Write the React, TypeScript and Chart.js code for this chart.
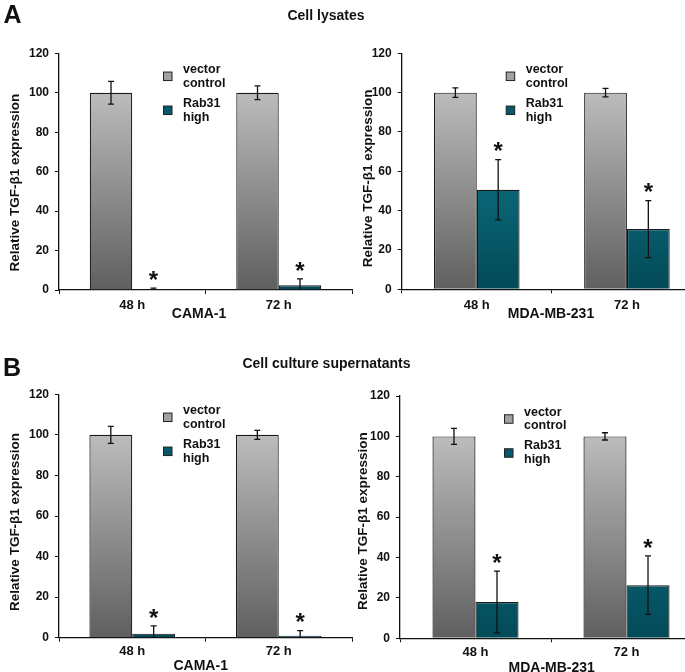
import React, { useEffect, useRef } from "react";
import { Chart, registerables } from "chart.js";

Chart.register(...registerables);

// ---------- data ----------
const timepoints = ["48 h", "72 h"];
const vectorLabel = ["vector", "control"];
const rab31Label = ["Rab31", "high"];

// A: cell lysates
const lysCamaVector = [100, 100];
const lysCamaVectorErr = [5.8, 3.5];
const lysCamaRab31 = [0.4, 2.4];
const lysCamaRab31Err = [0.6, 3.2];

const lysMdaVector = [100, 100];
const lysMdaVectorErr = [2.4, 2.2];
const lysMdaRab31 = [50.6, 30.6];
const lysMdaRab31Err = [15.3, 14.5];

// B: cell culture supernatants
const supCamaVector = [100, 100];
const supCamaVectorErr = [4.2, 2.2];
const supCamaRab31 = [2.0, 1.0];
const supCamaRab31Err = [3.8, 2.5];

const supMdaVector = [100, 100];
const supMdaVectorErr = [4.0, 1.8];
const supMdaRab31 = [18.0, 26.3];
const supMdaRab31Err = [15.3, 14.5];

const rab31Significant = [true, true];

const yMin = 0;
const yMax = 120;
const yStep = 20;

const yTitle = "Relative TGF-\u03b21 expression";

const FONT = '"Liberation Sans", Arial, Helvetica, sans-serif';
const INK = "#111";

type PanelCfg = {
  cellLine: string;
  vector: number[];
  vectorErr: number[];
  rab: number[];
  rabErr: number[];
  left: number;
  top: number;
  width: number;
  height: number;
  padTop: number;
  padRight: number;
  yWidth: number;
  xHeight: number;
  xTitleX: number;
  xTitleY: number;
  yTitleDx: number;
  yTitleDy: number;
  catPct: number;
  xTickPad: number;
};

const panels: PanelCfg[] = [
  {
    cellLine: "CAMA-1",
    vector: lysCamaVector,
    vectorErr: lysCamaVectorErr,
    rab: lysCamaRab31,
    rabErr: lysCamaRab31Err,
    left: 0, top: 0, width: 353, height: 330,
    padTop: 53.3, padRight: 1, yWidth: 59, xHeight: 40,
    xTitleX: 199, xTitleY: 314, yTitleDx: 44, yTitleDy: 11,
    catPct: 0.58, xTickPad: 4,
  },
  {
    cellLine: "MDA-MB-231",
    vector: lysMdaVector,
    vectorErr: lysMdaVectorErr,
    rab: lysMdaRab31,
    rabErr: lysMdaRab31Err,
    left: 340, top: 0, width: 362, height: 330,
    padTop: 53.3, padRight: 0, yWidth: 61.7, xHeight: 40.7,
    xTitleX: 211, xTitleY: 314, yTitleDx: 33.4, yTitleDy: 7,
    catPct: 0.57, xTickPad: 4,
  },
  {
    cellLine: "CAMA-1",
    vector: supCamaVector,
    vectorErr: supCamaVectorErr,
    rab: supCamaRab31,
    rabErr: supCamaRab31Err,
    left: 0, top: 336, width: 353, height: 336,
    padTop: 58.3, padRight: 1, yWidth: 59, xHeight: 34.3,
    xTitleX: 200.7, xTitleY: 330, yTitleDx: 44, yTitleDy: 6,
    catPct: 0.585, xTickPad: 2,
  },
  {
    cellLine: "MDA-MB-231",
    vector: supMdaVector,
    vectorErr: supMdaVectorErr,
    rab: supMdaRab31,
    rabErr: supMdaRab31Err,
    left: 340, top: 336, width: 362, height: 336,
    padTop: 60, padRight: 0, yWidth: 60, xHeight: 33.7,
    xTitleX: 211.7, xTitleY: 331.7, yTitleDx: 37, yTitleDy: 4,
    catPct: 0.57, xTickPad: 2,
  },
];

function grayFill(c: any) {
  const chart = c.chart;
  const y = chart.scales?.y;
  if (!chart.chartArea || !y) return "#909090";
  const g = chart.ctx.createLinearGradient(0, y.getPixelForValue(100), 0, y.getPixelForValue(0));
  g.addColorStop(0, "#bcbcbc");
  g.addColorStop(1, "#5f5f5f");
  return g;
}

function tealFill(c: any) {
  const chart = c.chart;
  const y = chart.scales?.y;
  if (!chart.chartArea || !y) return "#075a6a";
  const g = chart.ctx.createLinearGradient(0, y.getPixelForValue(60), 0, y.getPixelForValue(0));
  g.addColorStop(0, "#0b6a7b");
  g.addColorStop(1, "#034a58");
  return g;
}

const decorPlugin = {
  id: "decor",
  afterDatasetsDraw(chart: any, _args: any, opts: any) {
    const { ctx, chartArea: a } = chart;
    const y = chart.scales.y;
    ctx.save();

    // error bars and asterisks
    chart.data.datasets.forEach((ds: any, di: number) => {
      const meta = chart.getDatasetMeta(di);
      meta.data.forEach((bar: any, i: number) => {
        const v = ds.data[i];
        const e = ds.errors[i];
        const cx = bar.x;
        const yTop = y.getPixelForValue(v + e);
        const low = v - e;
        const yBot = low >= 0 ? y.getPixelForValue(low) : a.bottom;
        ctx.strokeStyle = INK;
        ctx.lineWidth = 1.3;
        ctx.beginPath();
        ctx.moveTo(cx, yTop);
        ctx.lineTo(cx, yBot);
        ctx.moveTo(cx - 3, yTop);
        ctx.lineTo(cx + 3, yTop);
        if (low >= 0) {
          ctx.moveTo(cx - 3, yBot);
          ctx.lineTo(cx + 3, yBot);
        }
        ctx.stroke();
        if (ds.stars && ds.stars[i]) {
          ctx.fillStyle = INK;
          ctx.font = `bold 24px ${FONT}`;
          ctx.textAlign = "center";
          ctx.textBaseline = "alphabetic";
          ctx.fillText("*", cx, yTop - 14 + 13.8);
        }
      });
    });

    // legend
    const sqL = a.left + 104.5;
    const txL = a.left + 124;
    const sq = 8.5;
    const items = [
      { fill: "#a2a2a2", lines: vectorLabel, sqY: 23, lineY: [16.5, 30] },
      { fill: "#06596a", lines: rab31Label, sqY: 57, lineY: [50, 64] },
    ];
    items.forEach((it) => {
      ctx.fillStyle = it.fill;
      ctx.fillRect(sqL, a.top + it.sqY - sq / 2, sq, sq);
      ctx.strokeStyle = "#222";
      ctx.lineWidth = 1;
      ctx.strokeRect(sqL, a.top + it.sqY - sq / 2, sq, sq);
      ctx.fillStyle = INK;
      ctx.font = `bold 12.5px ${FONT}`;
      ctx.textAlign = "left";
      ctx.textBaseline = "middle";
      it.lines.forEach((t: string, k: number) => {
        ctx.fillText(t, txL, a.top + it.lineY[k]);
      });
    });

    // axis titles
    ctx.fillStyle = INK;
    ctx.font = `bold 14px ${FONT}`;
    ctx.textAlign = "center";
    ctx.textBaseline = "middle";
    ctx.fillText(opts.xTitle, opts.xTitleX, opts.xTitleY);

    ctx.save();
    ctx.translate(a.left - opts.yTitleDx, (a.top + a.bottom) / 2 + opts.yTitleDy);
    ctx.rotate(-Math.PI / 2);
    ctx.font = `bold 13.5px ${FONT}`;
    ctx.textAlign = "center";
    ctx.textBaseline = "middle";
    ctx.fillText(yTitle, 0, 0);
    ctx.restore();

    ctx.restore();
  },
};

function Panel({ cfg }: { cfg: PanelCfg }) {
  const ref = useRef<HTMLCanvasElement | null>(null);
  useEffect(() => {
    if (!ref.current) return;
    const chart = new Chart(ref.current, {
      type: "bar",
      data: {
        labels: timepoints,
        datasets: [
          {
            label: vectorLabel.join(" "),
            data: cfg.vector,
            errors: cfg.vectorErr,
            backgroundColor: grayFill,
            borderColor: "#1a1a1a",
            borderWidth: 1.2,
            categoryPercentage: cfg.catPct,
            barPercentage: 1,
          } as any,
          {
            label: rab31Label.join(" "),
            data: cfg.rab,
            errors: cfg.rabErr,
            stars: rab31Significant,
            backgroundColor: tealFill,
            borderColor: "#1a1a1a",
            borderWidth: 1.2,
            categoryPercentage: cfg.catPct,
            barPercentage: 1,
          } as any,
        ],
      },
      options: {
        responsive: false,
        animation: false,
        devicePixelRatio: 1,
        events: [],
        layout: { padding: { top: cfg.padTop, right: cfg.padRight, left: 0, bottom: 0 } },
        plugins: {
          legend: { display: false },
          tooltip: { enabled: false },
          decor: {
            xTitle: cfg.cellLine,
            xTitleX: cfg.xTitleX,
            xTitleY: cfg.xTitleY,
            yTitleDx: cfg.yTitleDx,
            yTitleDy: cfg.yTitleDy,
          },
        } as any,
        scales: {
          x: {
            offset: true,
            grid: {
              display: true,
              offset: true,
              drawOnChartArea: false,
              drawTicks: true,
              tickLength: 4,
              color: INK,
              lineWidth: 1,
            },
            border: { display: true, color: INK, width: 1.3 },
            ticks: {
              color: INK,
              font: { family: FONT, size: 13, weight: "bold" },
              padding: cfg.xTickPad,
              maxRotation: 0,
            },
            afterFit: (s: any) => {
              s.height = cfg.xHeight;
            },
          },
          y: {
            min: yMin,
            max: yMax,
            grid: {
              display: true,
              drawOnChartArea: false,
              drawTicks: true,
              tickLength: 4,
              color: INK,
              lineWidth: 1,
            },
            border: { display: true, color: INK, width: 1.3 },
            ticks: {
              stepSize: yStep,
              color: INK,
              font: { family: FONT, size: 12, weight: "bold" },
              padding: 6,
            },
            afterFit: (s: any) => {
              s.width = cfg.yWidth;
            },
          },
        },
      },
      plugins: [decorPlugin],
    } as any);
    return () => chart.destroy();
  }, [cfg]);
  return (
    <canvas
      ref={ref}
      width={cfg.width}
      height={cfg.height}
      style={{
        position: "absolute",
        left: cfg.left,
        top: cfg.top,
        width: cfg.width,
        height: cfg.height,
        display: "block",
      }}
    />
  );
}

const headStyle = (size: number): React.CSSProperties => ({
  position: "absolute",
  transform: "translate(-50%, -50%)",
  fontFamily: FONT,
  fontWeight: "bold",
  fontSize: size,
  lineHeight: 1,
  whiteSpace: "nowrap",
  color: INK,
});

export default function App() {
  return (
    <div
      style={{
        position: "absolute",
        left: 0,
        top: 0,
        width: 685,
        height: 672,
        overflow: "hidden",
        background: "#fff",
      }}
    >
      {panels.map((p, i) => (
        <Panel key={i} cfg={p} />
      ))}
      <div style={{ ...headStyle(25), left: 12.5, top: 14 }}>A</div>
      <div style={{ ...headStyle(14), left: 326, top: 15 }}>Cell lysates</div>
      <div style={{ ...headStyle(25), left: 12, top: 367 }}>B</div>
      <div style={{ ...headStyle(14), left: 326.5, top: 363 }}>Cell culture supernatants</div>
    </div>
  );
}
